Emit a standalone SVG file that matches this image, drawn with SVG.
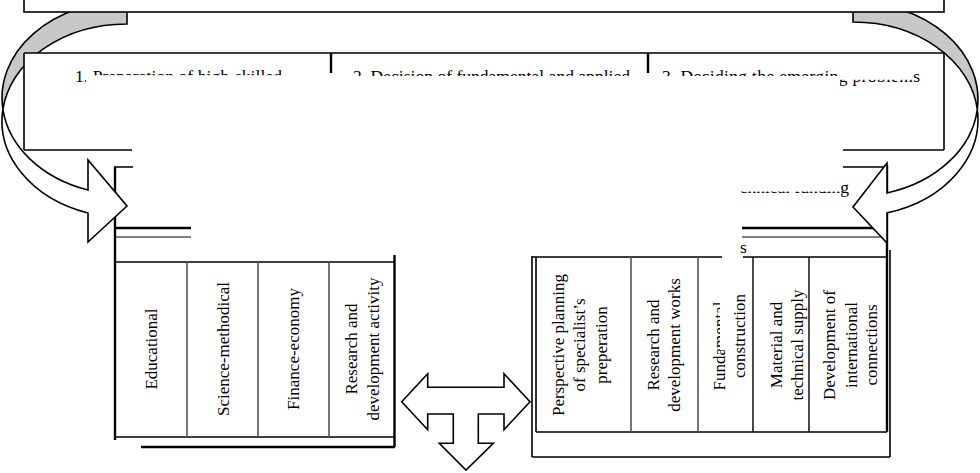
<svg xmlns="http://www.w3.org/2000/svg" width="980" height="473" viewBox="0 0 980 473">
<style>
.ln{stroke:#000;stroke-width:1.6;fill:none}
.thk{stroke:#000;stroke-width:2.4;fill:none}
.thn{stroke:#000;stroke-width:1.1;fill:none}
.dv{stroke:#555;stroke-width:1.6;fill:none}
.dvb{stroke:#000;stroke-width:1.4;fill:none}
.back{fill:#c8c8c8;stroke:#000;stroke-width:1.6}
.front{fill:#fff;stroke:#000;stroke-width:1.6;stroke-linejoin:miter}
.t{font-size:17.5px;fill:#000;font-family:'Liberation Serif','Times New Roman',serif}
.c{font-size:17px;fill:#000;text-anchor:middle;font-family:'Liberation Serif','Times New Roman',serif}
</style>
<defs>
<clipPath id="cl1" clipPathUnits="userSpaceOnUse"><rect x="86" y="60" width="240" height="15.3"/><rect x="72" y="60" width="14" height="30"/></clipPath>
<clipPath id="cl2" clipPathUnits="userSpaceOnUse"><rect x="340" y="60" width="300" height="16"/></clipPath>
<clipPath id="cl3" clipPathUnits="userSpaceOnUse"><rect x="655" y="60" width="185" height="16"/><rect x="840" y="79.8" width="72" height="12"/><rect x="912" y="60" width="14" height="30"/></clipPath>
<clipPath id="clg" clipPathUnits="userSpaceOnUse"><rect x="740" y="191.5" width="101" height="2.8"/><rect x="841" y="180" width="12" height="20"/></clipPath>
<clipPath id="clf" clipPathUnits="userSpaceOnUse"><rect x="700" y="250" width="20" height="190"/><rect x="700" y="350" width="30" height="90"/></clipPath>
<clipPath id="clc" clipPathUnits="userSpaceOnUse"><rect x="728" y="250" width="14" height="190"/><rect x="728" y="292" width="25" height="148"/></clipPath>
</defs>

<g id="connectors-back">
<path class="back" d="M127,1 A125,96.9 0 0 0 2.9,109.4 A125,96.9 0 0 1 127,24 Z"/>
<path class="back" d="M853,2 A125,97.3 0 0 1 977.3,109.3 A125,97.3 0 0 0 853,22 Z"/>
</g>

<g id="top-box">
<rect x="24" y="-10" width="920" height="22" fill="#fff" stroke="#000" stroke-width="1.6"/>
</g>

<g id="tasks-box">
<rect x="24" y="53" width="920" height="97" fill="#fff"/>
<path class="ln" d="M24,53 H944 M24,53 V150 M944,53 V150 M24,150 H132 M843,150 H944"/>
<path class="thk" d="M331,53 V73 M648,53 V73"/>
<g clip-path="url(#cl1)"><text class="t" x="75" y="81.5" textLength="207" lengthAdjust="spacing">1. Preparation of high-skilled</text></g>
<g clip-path="url(#cl2)"><text class="t" x="353" y="81.5" textLength="277" lengthAdjust="spacing">2. Decision of fundamental and applied</text></g>
<g clip-path="url(#cl3)"><text class="t" x="662" y="81.5" textLength="258" lengthAdjust="spacing">3. Deciding the emerging problems</text></g>
</g>

<g id="middle-box">
<path class="ln" d="M114,167 H133 M843,167 H887"/>
<g clip-path="url(#clg)"><text class="t" x="849" y="192.6" text-anchor="end" font-size="17">material-technical funding</text></g>
</g>

<g id="left-box">
<path class="thk" d="M115,167 V440"/>
<path class="thk" d="M115,228 H191"/>
<path class="thn" d="M115,237 H191"/>
<path class="ln" d="M115,262 H395 M115,437 H395"/>
<path class="dv" d="M187,262 V437 M258,262 V437 M329,262 V437"/>
<path class="thk" d="M394.5,255 V447 M141,447 H395"/>
<text class="c" transform="translate(157,349) rotate(-90)">Educational</text>
<text class="c" transform="translate(228.5,349) rotate(-90)">Science-methodical</text>
<text class="c" transform="translate(299,349) rotate(-90)">Finance-economy</text>
<text class="c" transform="translate(357,349) rotate(-90)">Research and</text>
<text class="c" transform="translate(379,349) rotate(-90)">development activity</text>
</g>

<g id="right-box">
<path class="thk" d="M887,165 V432"/>
<path class="ln" d="M890,250 V457 M532,457 H890"/>
<path class="thk" d="M742,228 H887"/>
<path class="thn" d="M742,237 H887"/>
<path class="ln" d="M532,257 H722 M743,257 H887 M532,256 V457 M536,257 V432 M536,432 H887"/>
<path class="dv" d="M631,257 V432 M698,257 V432"/>
<path class="dvb" d="M753,257 V432 M809,257 V432"/>
<text class="t" x="740" y="253" font-size="12">s</text>
<text class="c" transform="translate(563.5,345) rotate(-90)">Perspective planning</text>
<text class="c" transform="translate(585,345) rotate(-90)">of specialist’s</text>
<text class="c" transform="translate(606.5,345) rotate(-90)">preperation</text>
<text class="c" transform="translate(659,345) rotate(-90)">Research and</text>
<text class="c" transform="translate(680,345) rotate(-90)">development works</text>
<g clip-path="url(#clf)"><text class="c" transform="translate(724.5,346) rotate(-90)">Fundamental</text></g>
<g clip-path="url(#clc)"><text class="c" transform="translate(745,336) rotate(-90)">construction</text></g>
<text class="c" transform="translate(782,345) rotate(-90)">Material and</text>
<text class="c" transform="translate(803,345) rotate(-90)">technical supply</text>
<text class="c" transform="translate(835,345) rotate(-90)">Development of</text>
<text class="c" transform="translate(857,345) rotate(-90)">international</text>
<text class="c" transform="translate(877,345) rotate(-90)">connections</text>
</g>

<g id="connectors">
<path class="front" d="M2.9,109.4 A125,96.9 0 0 0 88,213 L88,242 L127,206 L88,160 L88,190 A125,96.9 0 0 1 2.9,109.4 Z"/>
<path class="front" d="M977.3,109.3 A125,97.3 0 0 1 887,212.9 L887,243 L853,207 L887,163 L887,193 A125,97.3 0 0 0 977.3,109.3 Z"/>
<path class="front" d="M401.7,401.7 L427.7,373.7 L427.7,387.3 L504,387.3 L504,373.7 L530,401.7 L504,429.7 L504,414 L478.3,414 L478.3,443.3 L493.3,443.3 L466,470 L439.3,443.3 L453.3,443.3 L453.3,414 L427.7,414 L427.7,429.7 Z"/>
</g>
</svg>
